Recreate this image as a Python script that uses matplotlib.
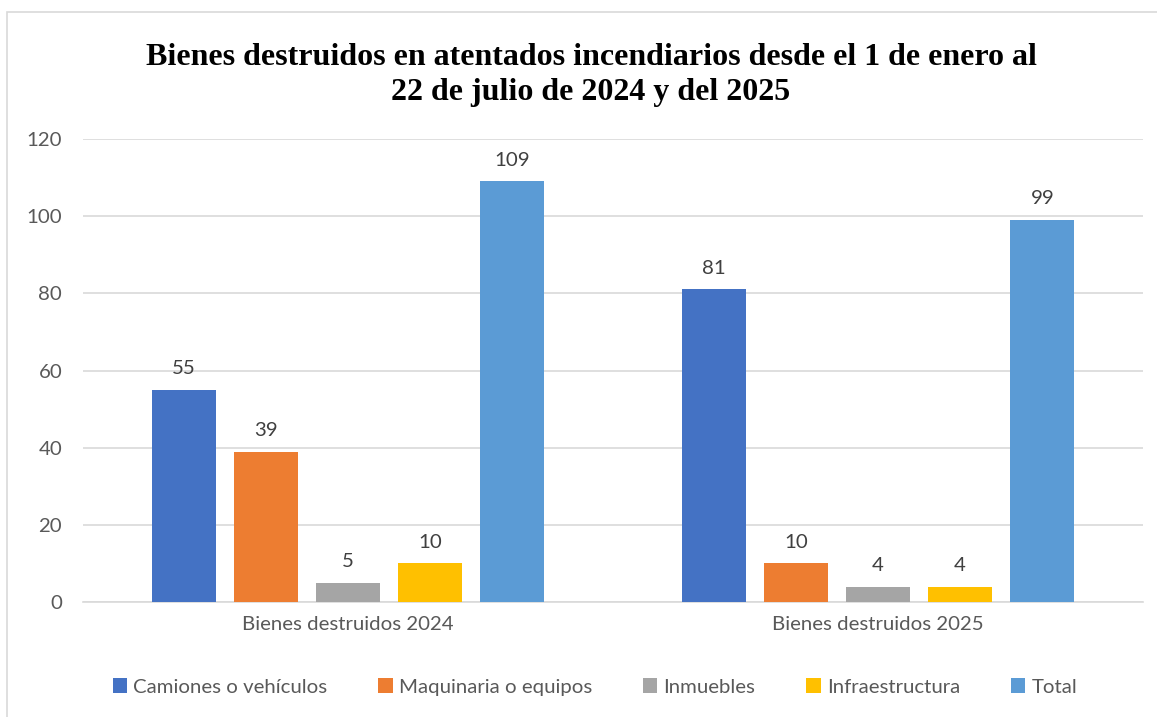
import matplotlib.pyplot as plt
import numpy as np
from matplotlib.patches import Rectangle

grupos = ["Bienes destruidos 2024", "Bienes destruidos 2025"]
series = ["Camiones o vehículos", "Maquinaria o equipos", "Inmuebles", "Infraestructura", "Total"]
valores = {
    "Camiones o vehículos": [55, 81],
    "Maquinaria o equipos": [39, 10],
    "Inmuebles": [5, 4],
    "Infraestructura": [10, 4],
    "Total": [109, 99],
}
colores = ["#4472C4", "#ED7D31", "#A5A5A5", "#FFC000", "#5B9BD5"]
titulo = "Bienes destruidos en atentados incendiarios desde el 1 de enero al\n22 de julio de 2024 y del 2025"

plt.rcParams['font.family'] = ['Lato', 'DejaVu Sans']
gris = "#595959"
fs = 14.7

fig = plt.figure(figsize=(11.57, 7.17), dpi=100)
ax = fig.add_axes([83 / 1157, 1 - 602 / 717, (1143 - 83) / 1157, (602 - 139) / 717])

# marco exterior
fig.patches.append(Rectangle((7 / 1157, -0.1), 1.2, 1 - 12 / 717 + 0.1, transform=fig.transFigure,
                             fill=False, edgecolor="#D9D9D9", linewidth=1.2))

x = np.arange(len(grupos))
ancho = 0.121
paso = 0.155
for i, s in enumerate(series):
    pos = x + (i - 2) * paso
    ax.bar(pos, valores[s], width=ancho, color=colores[i], label=s, zorder=3)
    for p, v in zip(pos, valores[s]):
        ax.text(p, v + 3.3, str(v), ha="center", va="bottom", fontsize=fs, color="#404040")

ax.set_xlim(-0.5, 1.5)
ax.set_ylim(0, 120)
ax.set_yticks(range(0, 121, 20))
ax.set_xticks(x)
ax.set_xticklabels(grupos)
ax.grid(axis="y", color="#D9D9D9", linewidth=1.2, zorder=0)
for sp in ["top", "right", "left"]:
    ax.spines[sp].set_visible(False)
ax.spines["bottom"].set_color("#D9D9D9")
ax.spines["bottom"].set_linewidth(1.2)
ax.tick_params(axis="both", length=0, labelsize=fs, colors=gris, pad=10)
ax.tick_params(axis="y", pad=15)

fig.text(591 / 1157, 1 - 75 / 717, titulo, ha="center", va="center", fontsize=23, fontweight="bold",
         family="Liberation Serif", linespacing=1.25)

ax.legend(loc="center", bbox_to_anchor=(0.5 - 18 / 1060, (602 - 687) / 463), ncol=5, frameon=False,
          fontsize=fs, handlelength=0.7, handleheight=0.7, handletextpad=0.3, columnspacing=2.5,
          labelcolor=gris)

fig.savefig("out.png", dpi=100)
